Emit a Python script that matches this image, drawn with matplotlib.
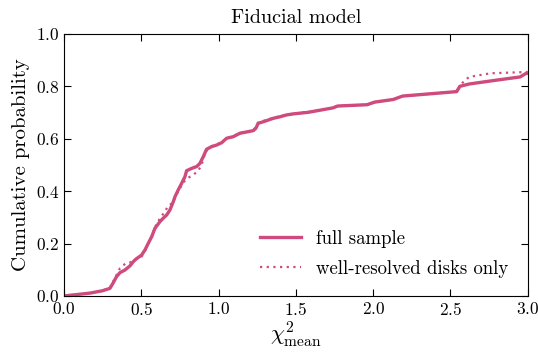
import matplotlib
matplotlib.use("Agg")
import matplotlib.pyplot as plt

plt.rcParams['font.family'] = ['cmr10', 'DejaVu Serif']
plt.rcParams['mathtext.fontset'] = 'cm'
plt.rcParams['axes.formatter.use_mathtext'] = True

# cumulative distribution
full_x = [0.0, 0.17, 0.25, 0.297, 0.319, 0.340, 0.362, 0.394, 0.427, 0.448, 0.466,
          0.502, 0.524, 0.545, 0.567, 0.588, 0.621, 0.642, 0.664, 0.685, 0.707,
          0.718, 0.739, 0.761, 0.782, 0.793, 0.826, 0.858, 0.879, 0.901, 0.922,
          0.955, 0.987, 1.020, 1.052, 1.095, 1.138, 1.181, 1.224, 1.241, 1.256,
          1.289, 1.353, 1.397, 1.440, 1.483, 1.580, 1.74, 1.77, 1.96, 2.01, 2.13,
          2.19, 2.54, 2.56, 2.62, 2.80, 2.95, 2.99, 3.0]
full_y = [0.0, 0.011, 0.02, 0.029, 0.051, 0.074, 0.089, 0.099, 0.115, 0.131, 0.141,
          0.156, 0.176, 0.201, 0.226, 0.258, 0.284, 0.297, 0.309, 0.328, 0.360,
          0.379, 0.405, 0.430, 0.455, 0.478, 0.487, 0.494, 0.506, 0.532, 0.560,
          0.570, 0.576, 0.585, 0.602, 0.608, 0.621, 0.626, 0.631, 0.640, 0.659,
          0.665, 0.678, 0.684, 0.691, 0.695, 0.701, 0.718, 0.725, 0.73, 0.74, 0.75,
          0.763, 0.78, 0.80, 0.809, 0.824, 0.836, 0.85, 0.85]

resolved_x = [0.0, 0.17, 0.25, 0.297, 0.319, 0.340, 0.362, 0.40, 0.427, 0.448, 0.466,
              0.502, 0.524, 0.545, 0.567, 0.588, 0.621, 0.653, 0.674, 0.695, 0.707,
              0.718, 0.739, 0.761, 0.782, 0.80, 0.836, 0.868, 0.89, 0.91, 0.93,
              0.955, 0.987, 1.020, 1.052, 1.095, 1.138, 1.181, 1.224, 1.241, 1.256,
              1.289, 1.353, 1.397, 1.440, 1.483, 1.580, 1.74, 1.77, 1.96, 2.01, 2.13,
              2.19, 2.54, 2.58, 2.62, 2.76, 3.0]
resolved_y = [0.0, 0.011, 0.02, 0.032, 0.056, 0.080, 0.106, 0.125, 0.128, 0.133, 0.140,
              0.150, 0.172, 0.201, 0.228, 0.262, 0.297, 0.322, 0.344, 0.352, 0.362,
              0.376, 0.400, 0.422, 0.440, 0.450, 0.462, 0.478, 0.50, 0.54, 0.562,
              0.572, 0.578, 0.587, 0.602, 0.610, 0.622, 0.627, 0.633, 0.645, 0.662,
              0.668, 0.680, 0.686, 0.692, 0.696, 0.702, 0.718, 0.725, 0.73, 0.74, 0.75,
              0.763, 0.78, 0.815, 0.836, 0.85, 0.855]

color = '#cf4a7d'

fig = plt.figure(figsize=(5.38, 3.54), dpi=100)
ax = fig.add_axes([0.119, 0.164, 0.862, 0.740])

ax.plot(full_x, full_y, color=color, lw=2.4, label='full sample')
ax.plot(resolved_x, resolved_y, color=color, lw=1.6, ls=(0, (1, 2)),
        label='well-resolved disks only')

ax.set_xlim(0, 3)
ax.set_ylim(0, 1)
ax.set_xticks([0.0, 0.5, 1.0, 1.5, 2.0, 2.5, 3.0])
ax.set_yticks([0.0, 0.2, 0.4, 0.6, 0.8, 1.0])
ax.tick_params(direction='in', top=True, right=True, length=5, labelsize=12.5)
ax.set_xlabel(r'$\chi^2_{\rm mean}$', fontsize=16, labelpad=1)
ax.set_ylabel('Cumulative probability', fontsize=15)
ax.set_title('Fiducial model', fontsize=14.5, pad=8)

ax.legend(loc='lower right', bbox_to_anchor=(0.995, 0.005), frameon=False, fontsize=13.5,
          handlelength=2.2, labelspacing=0.65)

fig.savefig('out.png', dpi=100)
